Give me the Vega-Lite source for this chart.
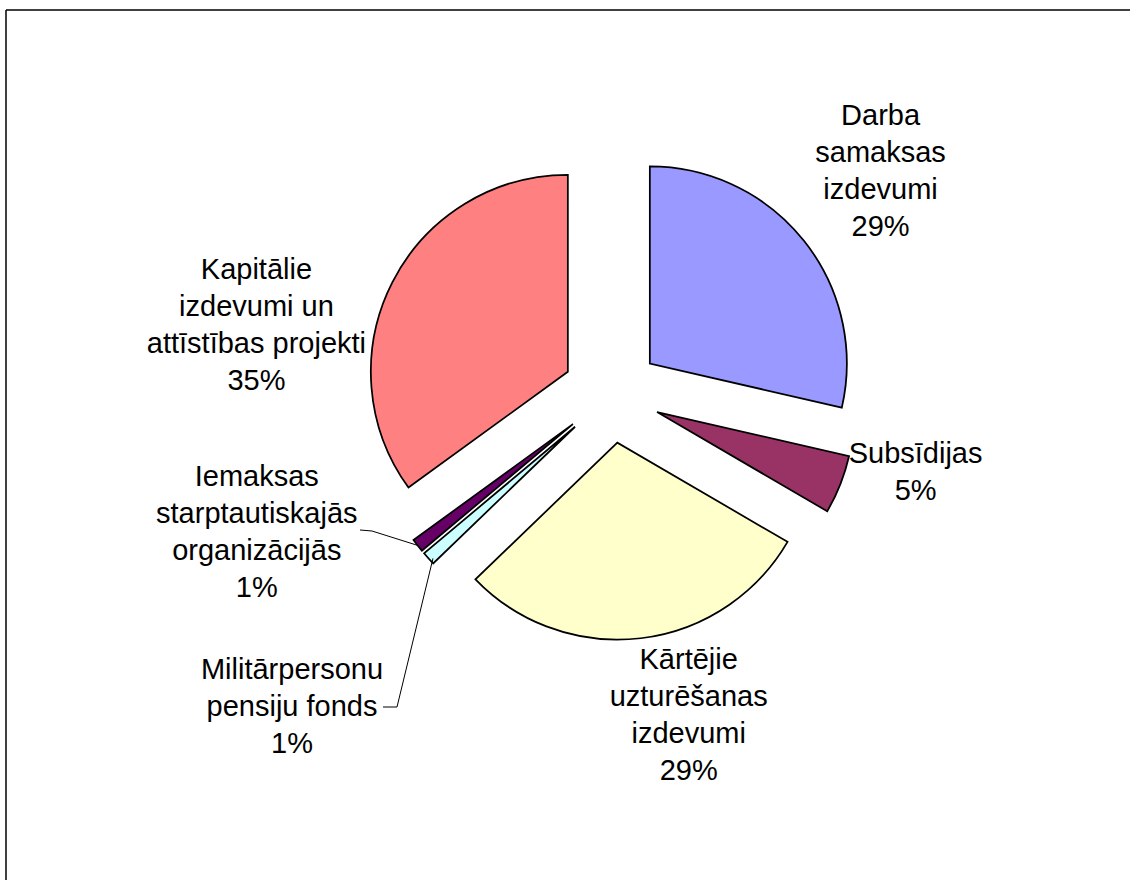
{
  "$schema": "https://vega.github.io/schema/vega-lite/v6.json",
  "width": 1124,
  "height": 870,
  "autosize": {"type": "none"},
  "padding": {"left": 6, "top": 10, "right": 0, "bottom": 0},
  "background": "white",
  "view": {"stroke": null},
  "config": {
    "view": {"stroke": null},
    "text": {"font": "Liberation Sans", "fontSize": 29, "lineHeight": 37, "align": "center", "baseline": "middle", "color": "black"}
  },
  "data": {
    "values": [
      {"n": 1, "name": "Darba samaksas izdevumi", "value": 28.6, "label": ["Darba", "samaksas", "izdevumi", "29%"]},
      {"n": 2, "name": "Subsīdijas", "value": 4.8, "label": ["Subsīdijas", "5%"]},
      {"n": 3, "name": "Kārtējie uzturēšanas izdevumi", "value": 29.4, "label": ["Kārtējie", "uzturēšanas", "izdevumi", "29%"]},
      {"n": 4, "name": "Militārpersonu pensiju fonds", "value": 1.1, "label": ["Militārpersonu", "pensiju fonds", "1%"]},
      {"n": 5, "name": "Iemaksas starptautiskajās organizācijās", "value": 1.1, "label": ["Iemaksas", "starptautiskajās", "organizācijās", "1%"]},
      {"n": 6, "name": "Kapitālie izdevumi un attīstības projekti", "value": 35.0, "label": ["Kapitālie", "izdevumi un", "attīstības projekti", "35%"]}
    ]
  },
  "transform": [
    {"stack": "value", "groupby": [], "sort": [{"field": "n", "order": "ascending"}], "as": ["v0", "v1"]}
  ],
  "layer": [
    {
      "transform": [{"filter": "datum.n == 1"}],
      "mark": {"type": "rule", "color": "black", "strokeWidth": 1.5},
      "encoding": {"x": {"value": 0}, "x2": {"value": "width"}, "y": {"value": 0}}
    },
    {
      "transform": [{"filter": "datum.n == 1"}],
      "mark": {"type": "rule", "color": "black", "strokeWidth": 1.5},
      "encoding": {"x": {"value": 0}, "y": {"value": 0}, "y2": {"value": "height"}}
    },
    {
      "mark": {
        "type": "arc",
        "outerRadius": 197,
        "stroke": "black",
        "strokeWidth": 1.75,
        "xOffset": {"expr": "43.5 + 49*sin(scale('theta',(datum.v0+datum.v1)/2))"},
        "yOffset": {"expr": "-51 - 49*cos(scale('theta',(datum.v0+datum.v1)/2))"}
      },
      "encoding": {
        "theta": {"field": "v0", "type": "quantitative", "scale": {"domain": [0, 100]}},
        "theta2": {"field": "v1"},
        "color": {
          "field": "name",
          "type": "nominal",
          "scale": {
            "domain": ["Darba samaksas izdevumi", "Subsīdijas", "Kārtējie uzturēšanas izdevumi", "Militārpersonu pensiju fonds", "Iemaksas starptautiskajās organizācijās", "Kapitālie izdevumi un attīstības projekti"],
            "range": ["#9999FF", "#993366", "#FFFFCC", "#CCFFFF", "#660066", "#FF8080"]
          },
          "legend": null
        }
      }
    },
    {
      "transform": [{"filter": "datum.n == 5"}],
      "mark": {"type": "rule", "color": "black", "strokeWidth": 1},
      "encoding": {
        "x": {"value": {"expr": "width/2 + 43.5 + 246*sin(scale('theta',(datum.v0+datum.v1)/2))"}},
        "y": {"value": {"expr": "height/2 - 51 - 246*cos(scale('theta',(datum.v0+datum.v1)/2))"}},
        "x2": {"value": {"expr": "width/2 + 43.5 - 239.5"}},
        "y2": {"value": {"expr": "height/2 - 51 + 137"}}
      }
    },
    {
      "transform": [{"filter": "datum.n == 5"}],
      "mark": {"type": "rule", "color": "black", "strokeWidth": 1},
      "encoding": {
        "x": {"value": {"expr": "width/2 + 43.5 - 239.5"}},
        "y": {"value": {"expr": "height/2 - 51 + 137"}},
        "x2": {"value": {"expr": "width/2 + 43.5 - 251.5"}},
        "y2": {"value": {"expr": "height/2 - 51 + 136"}}
      }
    },
    {
      "transform": [{"filter": "datum.n == 4"}],
      "mark": {"type": "rule", "color": "black", "strokeWidth": 1},
      "encoding": {
        "x": {"value": {"expr": "width/2 + 43.5 + 240*sin(scale('theta',(datum.v0+datum.v1)/2))"}},
        "y": {"value": {"expr": "height/2 - 51 - 240*cos(scale('theta',(datum.v0+datum.v1)/2)) + 4"}},
        "x2": {"value": {"expr": "width/2 + 43.5 - 214.5"}},
        "y2": {"value": {"expr": "height/2 - 51 + 313"}}
      }
    },
    {
      "transform": [{"filter": "datum.n == 4"}],
      "mark": {"type": "rule", "color": "black", "strokeWidth": 1},
      "encoding": {
        "x": {"value": {"expr": "width/2 + 43.5 - 214.5"}},
        "y": {"value": {"expr": "height/2 - 51 + 313"}},
        "x2": {"value": {"expr": "width/2 + 43.5 - 228.5"}},
        "y2": {"value": {"expr": "height/2 - 51 + 313"}}
      }
    },
    {
      "transform": [{"filter": "datum.n == 1"}],
      "mark": {"type": "text", "theta": {"expr": "scale('theta',(datum.v0+datum.v1)/2)"}, "radius": 349, "dx": -4, "dy": -60.5, "xOffset": 43.5, "yOffset": -51},
      "encoding": {"text": {"field": "label", "type": "nominal"}}
    },
    {
      "transform": [{"filter": "datum.n == 2"}],
      "mark": {"type": "text", "theta": {"expr": "scale('theta',(datum.v0+datum.v1)/2)"}, "radius": 312, "dx": 14, "dy": -54.5, "xOffset": 43.5, "yOffset": -51},
      "encoding": {"text": {"field": "label", "type": "nominal"}}
    },
    {
      "transform": [{"filter": "datum.n == 3"}],
      "mark": {"type": "text", "theta": {"expr": "scale('theta',(datum.v0+datum.v1)/2)"}, "radius": 329, "dx": 38, "dy": -60.5, "xOffset": 43.5, "yOffset": -51},
      "encoding": {"text": {"field": "label", "type": "nominal"}}
    },
    {
      "transform": [{"filter": "datum.n == 4"}],
      "mark": {"type": "text", "theta": {"expr": "scale('theta',(datum.v0+datum.v1)/2)"}, "radius": 447, "dx": 13, "dy": -23, "xOffset": 43.5, "yOffset": -51},
      "encoding": {"text": {"field": "label", "type": "nominal"}}
    },
    {
      "transform": [{"filter": "datum.n == 5"}],
      "mark": {"type": "text", "theta": {"expr": "scale('theta',(datum.v0+datum.v1)/2)"}, "radius": 365, "dx": -67, "dy": -141.5, "xOffset": 43.5, "yOffset": -51},
      "encoding": {"text": {"field": "label", "type": "nominal"}}
    },
    {
      "transform": [{"filter": "datum.n == 6"}],
      "mark": {"type": "text", "theta": {"expr": "scale('theta',(datum.v0+datum.v1)/2)"}, "radius": 348, "dx": -45, "dy": 33.5, "xOffset": 43.5, "yOffset": -51},
      "encoding": {"text": {"field": "label", "type": "nominal"}}
    }
  ]
}
